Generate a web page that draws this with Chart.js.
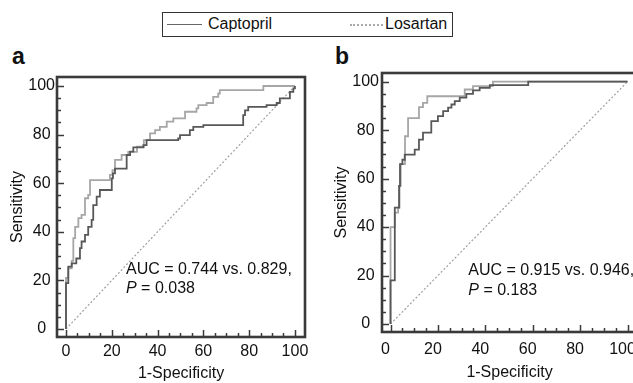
<!DOCTYPE html>
<html>
<head>
<meta charset="utf-8">
<title>ROC curves captopril vs losartan</title>
<script src="https://cdn.jsdelivr.net/npm/chart.js@4.4.1/dist/chart.umd.min.js"></script>
<style>
  html, body { margin: 0; padding: 0; background: #fff; }
  body { width: 633px; height: 383px; overflow: hidden; position: relative;
         font-family: "Liberation Sans", Arial, sans-serif; color: #111; }
  canvas { position: absolute; top: 0; }
  #chartA { left: 0; }
  #chartB { left: 320px; }
  .panel { position: absolute; top: 45px; font-size: 23px; font-weight: bold; line-height: 23px; }
  #legend { position: absolute; left: 162px; top: 12px; width: 291px; height: 25px;
            box-sizing: border-box; border: 1px solid #333; font-size: 16px; }
  #legend .item { position: absolute; top: -1px; height: 23px; line-height: 23px; }
  #legend .swatch { position: absolute; top: 11px; height: 0; }
</style>
</head>
<body>
<div id="legend">
  <span class="swatch" style="left:4px;width:35px;border-top:1.5px solid #666"></span>
  <span class="item" style="left:45px">Captopril</span>
  <span class="swatch" style="left:187px;width:33px;border-top:2px dotted #aaa"></span>
  <span class="item" style="left:222px">Losartan</span>
</div>
<div class="panel" style="left:12px">a</div>
<div class="panel" style="left:335px">b</div>
<canvas id="chartA" width="320" height="383"></canvas>
<canvas id="chartB" width="330" height="383"></canvas>
<script>
// ROC vertices (1-specificity, sensitivity); curve rises at previous x, then runs across
const capFprA = [0,1,2.5,4.5,6.1,6.8,8.3,9.7,11.2,11.9,13.4,14.8,20,20.5,21.4,26.5,28,29.4,33.8,35.2,49,49.8,54.1,55.6,60,77.4,78.2,79.6,87.6,92,93.4,97.8,99.3,100,100];
const capTprA = [0,18.9,25.7,27,29,33.3,36,38.7,42,44.9,51,54.5,57.2,62,64,66,71.6,73,74.7,75.7,77.7,78.4,79.8,81.8,83.2,83.9,88,90,91.4,92.1,93,94.9,97.6,99,100];
const losFprA = [0,1,2.5,3.2,4,5.4,6.8,8.3,9.7,10.5,19.2,20.3,21.4,24.3,27.2,31,34,36.7,38.9,41,44,46.9,52,57,57.8,61.4,64.3,66.5,67.2,86.2,100];
const losTprA = [0,21,25,28,37.4,42,45.6,47,53.8,55.2,61.3,63.4,65.4,69.6,71.6,72.9,75,77.7,80.5,81.8,83.2,85.3,86.7,89.4,90.8,92.1,93,95.5,96.9,98.3,100];

const capFprB = [0,1.8,3.6,4,5,6,10.2,12,13.7,17.2,20,22.2,24.3,25.7,27.1,29.2,32,34.8,37.6,41.9,58.1,100];
const capTprB = [0,18,48,57,66,67.8,69.9,72,76.1,79,83.7,85.8,87.9,89.3,90.6,92,93.4,95,96.4,97.5,98.6,100];
const losFprB = [0,1.8,3.2,3.8,4.3,6.1,7.4,12,13.7,15.5,31.3,34.8,43.2,100];
const losTprB = [0,40,46,48,57,66,77.5,85,89.5,91.3,94,96.8,98.2,100];

const chanceX = [0, 100];
const chanceY = [0, 100];
const tickValues = [0, 20, 40, 60, 80, 100];
const aucTextA = ['AUC = 0.744 vs. 0.829,', '0.038'];
const aucTextB = ['AUC = 0.915 vs. 0.946,', '0.183'];

const FONT = '"Liberation Sans", Arial, sans-serif';
Chart.defaults.font.family = FONT;
Chart.defaults.font.size = 16;
Chart.defaults.color = '#111';
Chart.defaults.animation = false;

function pts(xs, ys) {
  return xs.map((x, i) => ({ x: x, y: ys[i] }));
}

// frame, inward ticks and the AUC note
const rocFrame = {
  id: 'rocFrame',
  afterDatasetsDraw(chart, args, opts) {
    const ctx = chart.ctx, a = chart.chartArea;
    const x = chart.scales.x, y = chart.scales.y;
    ctx.save();
    ctx.strokeStyle = '#3a3a3a';
    ctx.lineWidth = 1.5;
    for (let v = 0; v <= 100; v += 5) {
      const len = tickValues.includes(v) ? 7 : 4;
      const px = Math.round(x.getPixelForValue(v)) + 0.5;
      ctx.beginPath(); ctx.moveTo(px, a.bottom); ctx.lineTo(px, a.bottom - len); ctx.stroke();
      const py = Math.round(y.getPixelForValue(v)) + 0.5;
      ctx.beginPath(); ctx.moveTo(a.left, py); ctx.lineTo(a.left + len, py); ctx.stroke();
    }
    ctx.lineWidth = 2.6;
    ctx.strokeRect(a.left, a.top, a.right - a.left, a.bottom - a.top);

    const tx = x.getPixelForValue(opts.noteX);
    const ty = y.getPixelForValue(opts.noteY);
    ctx.fillStyle = '#111';
    ctx.textBaseline = 'alphabetic';
    ctx.font = '16px ' + FONT;
    ctx.fillText(opts.text[0], tx, ty);
    ctx.font = 'italic 16px ' + FONT;
    ctx.fillText('P', tx, ty + 19.5);
    const w = ctx.measureText('P').width;
    ctx.font = '16px ' + FONT;
    ctx.fillText(' = ' + opts.text[1], tx + w, ty + 19.5);
    ctx.restore();
  }
};

function makeRoc(id, d) {
  return new Chart(document.getElementById(id), {
    type: 'line',
    data: {
      datasets: [{
        label: 'Captopril',
        data: pts(d.capX, d.capY),
        stepped: 'after',
        borderColor: '#585858',
        borderWidth: 1.8,
        pointRadius: 0
      }, {
        label: 'Losartan',
        data: pts(d.losX, d.losY),
        stepped: 'after',
        borderColor: '#a6a6a6',
        borderWidth: 1.8,
        pointRadius: 0
      }, {
        label: 'chance',
        data: pts(chanceX, chanceY),
        borderColor: '#a0a0a0',
        borderWidth: 1.2,
        borderDash: [2, 2],
        pointRadius: 0
      }]
    },
    options: {
      responsive: false,
      layout: { padding: { top: d.top, right: d.right, left: 0, bottom: 0 } },
      plugins: {
        legend: { display: false },
        tooltip: { enabled: false },
        rocFrame: { noteX: d.noteX, noteY: d.noteY, text: d.text }
      },
      scales: {
        x: {
          type: 'linear',
          min: d.xMin, max: d.xMax,
          grid: { display: false, drawTicks: false },
          border: { display: false },
          ticks: { stepSize: 20, includeBounds: false, autoSkip: false, maxRotation: 0,
                   padding: d.xPad, labelOffset: d.xOffset },
          title: { display: true, text: '1-Specificity', padding: { top: 0, bottom: d.xTitlePad } },
          afterFit: s => { s.height = d.xHeight; }
        },
        y: {
          type: 'linear',
          min: -3.3, max: d.yMax,
          grid: { display: false, drawTicks: false },
          border: { display: false },
          ticks: { stepSize: 20, includeBounds: false, autoSkip: false,
                   padding: d.yPad, crossAlign: 'center' },
          title: { display: true, text: 'Sensitivity', padding: { top: d.yTitlePad, bottom: 0 } },
          afterFit: s => { s.width = d.yWidth; }
        }
      }
    },
    plugins: [rocFrame]
  });
}

makeRoc('chartA', {
  capX: capFprA, capY: capTprA, losX: losFprA, losY: losTprA,
  top: 77, right: 15, xMin: -3.93, xMax: 104.4, yMax: 103.7,
  xHeight: 46, yWidth: 57, xPad: 5, xOffset: 0, yPad: 2,
  xTitlePad: 0, yTitlePad: 8,
  noteX: 26.2, noteY: 22.7, text: aucTextA
});

makeRoc('chartB', {
  capX: capFprB, capY: capTprB, losX: losFprB, losY: losTprB,
  top: 73, right: 13, xMin: -3.6, xMax: 104.0, yMax: 103.6,
  xHeight: 51, yWidth: 62, xPad: 8, xOffset: -5, yPad: 3,
  xTitlePad: 1, yTitlePad: 12,
  noteX: 32.8, noteY: 20.2, text: aucTextB
});
</script>
</body>
</html>
